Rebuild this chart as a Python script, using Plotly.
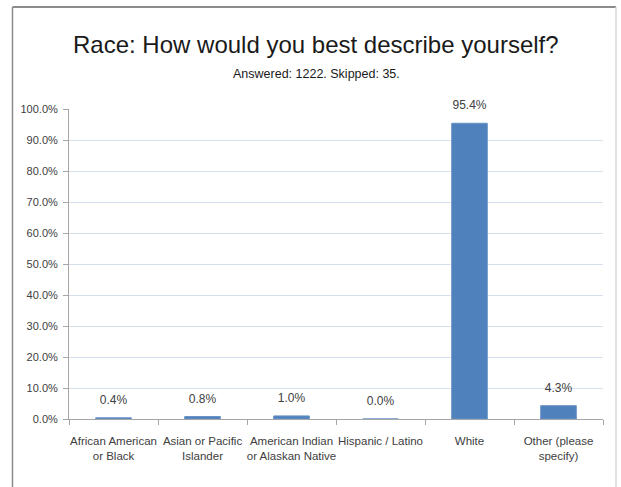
import plotly.graph_objects as go

# Survey responses: share of respondents per race category
categories = [
    "African American<br>or Black",
    "Asian or Pacific<br>Islander",
    "American Indian<br>or Alaskan Native",
    "Hispanic / Latino",
    "White",
    "Other (please<br>specify)",
]
shares = [0.004, 0.008, 0.010, 0.000, 0.954, 0.043]
y_ticks = [i / 10 for i in range(11)]
y_tick_text = [f"{v * 100:.1f}%" for v in y_ticks]

FONT = "Liberation Sans, Arial, sans-serif"
TEXT = "#404040"

W, H = 621, 487
L, R, T, B = 69, 18, 109, 68
pw, ph = W - L - R, H - T - B


def px(x):
    return (x - L) / pw


def py(y):
    return (H - B - y) / ph


fig = go.Figure()
fig.add_trace(
    go.Bar(
        x=categories,
        y=shares,
        marker=dict(color="#4f81bd", line=dict(color="#6a93c6", width=1)),
        width=0.4,
        hoverinfo="x+y",
    )
)
# value labels floating a little above each bar
fig.add_trace(
    go.Scatter(
        x=categories,
        y=shares,
        mode="markers+text",
        marker=dict(size=16, color="rgba(0,0,0,0)"),
        text=[f"{v * 100:.1f}%" for v in shares],
        textposition="top center",
        textfont=dict(family=FONT, size=12, color=TEXT),
        cliponaxis=False,
        hoverinfo="skip",
    )
)

fig.update_layout(
    width=W,
    height=H,
    margin=dict(l=L, r=R, t=T, b=B),
    paper_bgcolor="white",
    plot_bgcolor="white",
    showlegend=False,
    font=dict(family=FONT, size=11, color=TEXT),
    xaxis=dict(
        automargin=False,
        tickangle=0,
        showline=True,
        linecolor="#a6a6a6",
        linewidth=1,
        ticks="outside",
        tickson="boundaries",
        ticklen=5,
        tickcolor="#a6a6a6",
        ticklabelstandoff=11,
        showgrid=False,
        tickfont=dict(family=FONT, size=11.5, color=TEXT),
    ),
    yaxis=dict(
        automargin=False,
        range=[0, 1],
        tickvals=y_ticks,
        ticktext=y_tick_text,
        showline=True,
        linecolor="#a6a6a6",
        linewidth=1,
        ticks="outside",
        ticklen=5,
        tickcolor="#a6a6a6",
        ticklabelstandoff=3,
        showgrid=True,
        gridcolor="#d5e0ee",
        gridwidth=1,
        zeroline=False,
        tickfont=dict(family=FONT, size=11, color=TEXT),
    ),
    annotations=[
        dict(
            text="Race: How would you best describe yourself?",
            x=px(316), y=py(45), xref="paper", yref="paper",
            xanchor="center", yanchor="middle", showarrow=False,
            font=dict(family=FONT, size=24, color="#1a1a1a"),
        ),
        dict(
            text="Answered: 1222. Skipped: 35.",
            x=px(316), y=py(74), xref="paper", yref="paper",
            xanchor="center", yanchor="middle", showarrow=False,
            font=dict(family=FONT, size=12.5, color="#1a1a1a"),
        ),
    ],
    shapes=[
        # outer chart frame
        dict(type="line", xref="paper", yref="paper",
             x0=px(12.5), x1=px(616), y0=py(7), y1=py(7),
             line=dict(color="#8c8c8c", width=2)),
        dict(type="line", xref="paper", yref="paper",
             x0=px(12.5), x1=px(12.5), y0=py(7), y1=py(500),
             line=dict(color="#8c8c8c", width=1.5)),
        dict(type="line", xref="paper", yref="paper",
             x0=px(616), x1=px(616), y0=py(7), y1=py(500),
             line=dict(color="#d9d9d9", width=1.5)),
    ],
)

fig.write_html("out.html")
